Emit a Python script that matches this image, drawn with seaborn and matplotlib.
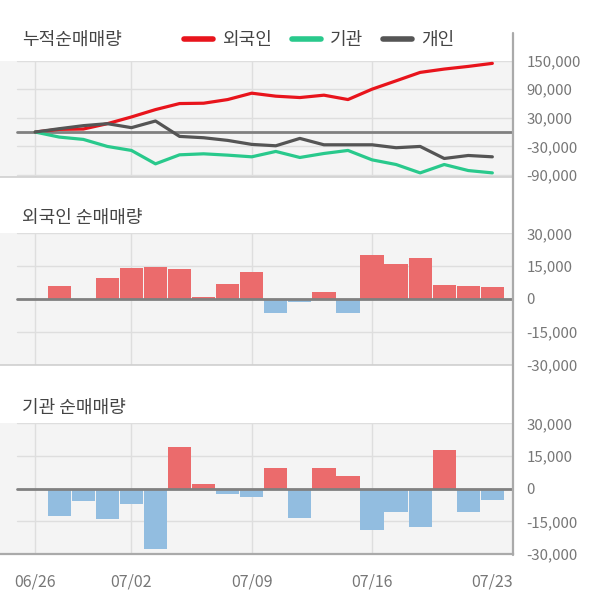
import numpy as np
import pandas as pd
import matplotlib
matplotlib.use("Agg")
import matplotlib.pyplot as plt
from matplotlib.lines import Line2D
import seaborn as sns

# ---------------- data ----------------
dates = ["06/26", "06/27", "06/28", "06/29", "07/02", "07/03", "07/04", "07/05", "07/06",
         "07/09", "07/10", "07/11", "07/12", "07/13", "07/16", "07/17", "07/18", "07/19",
         "07/20", "07/23"]
tick_dates = ["06/26", "07/02", "07/09", "07/16", "07/23"]
grid_dates = ["06/26", "07/02", "07/09", "07/16"]

cum_foreign = [0, 5600, 6300, 17600, 31700, 47200, 59900, 60600, 68300, 81700, 75400,
               72500, 77500, 68300, 90100, 107700, 125400, 132400, 138000, 144400]
cum_inst = [0, -10600, -15500, -30300, -38700, -66900, -47900, -45800, -48600, -52100,
            -40800, -53500, -45100, -38700, -58500, -68300, -85900, -68300, -81000, -85900]
cum_indiv = [0, 7000, 13400, 17600, 9200, 23200, -9200, -12000, -17600, -26000, -28900,
             -13400, -26800, -26800, -26800, -33000, -30300, -55600, -49300, -52100]

net_foreign = [0, 6000, 0, 9700, 14200, 14700, 13800, 1100, 7000, 12400, -6500, -1500,
               3300, -6500, 20200, 16100, 18800, 6500, 6100, 5600]
net_inst = [0, -12400, -5800, -13800, -7100, -27900, 19200, 2000, -2600, -3800, 9700,
            -13300, 9700, 5600, -18800, -10600, -17400, 17900, -10600, -5200]

series_names = ["외국인", "기관", "개인"]
top_title = "누적순매매량"
mid_title = "외국인 순매매량"
bot_title = "기관 순매매량"
top_ticks = [150000, 90000, 30000, -30000, -90000]
bar_ticks = [30000, 15000, 0, -15000, -30000]

# ---------------- style ----------------
sns.set_theme(style="white")
plt.rcParams["font.family"] = ["Noto Sans CJK KR", "DejaVu Sans"]

W, H = 600, 604
fig = plt.figure(figsize=(W / 100, H / 100), dpi=100)
fig.patch.set_facecolor("white")

RIGHT = 513
X0 = 35.2
STEP = 24.06
xl = ((0 - X0) / STEP, (RIGHT - X0) / STEP)
BG = "#f4f4f4"
GRID = "#dedede"
TICKC = "#777777"
TITLEC = "#444444"
ZEROC = "#808080"
RED = "#e8141c"
GREEN = "#29c98c"
DARK = "#555555"
POS = "#eb6b6c"
NEG = "#92bde0"
GSTART = 17 / RIGHT
TICKFS = 10.8
TITLEFS = 13


def make_ax(top, bottom):
    ax = fig.add_axes([0, 1 - bottom / H, RIGHT / W, (bottom - top) / H])
    ax.set_facecolor(BG)
    for s in ax.spines.values():
        s.set_visible(False)
    ax.set_xlim(*xl)
    return ax


def decorate(ax, ticks, labels, bottom_color, bottom_lw):
    for t in ticks:
        ax.axhline(t, xmin=GSTART, xmax=1, color=GRID, lw=1.0, zorder=0.5)
    for d in grid_dates:
        ax.axvline(dates.index(d), color=GRID, lw=1.0, zorder=0.5)
    ax.set_yticks(ticks)
    ax.set_yticklabels(labels)
    ax.tick_params(axis="y", left=False, right=False, labelleft=False, labelright=True,
                   length=0, pad=9.5, labelsize=TICKFS, labelcolor=TICKC)
    ax.tick_params(axis="x", bottom=False, labelbottom=False, length=0)
    ax.set_xlabel("")
    ax.set_ylabel("")
    ax.spines["bottom"].set_visible(True)
    ax.spines["bottom"].set_color(bottom_color)
    ax.spines["bottom"].set_linewidth(bottom_lw)


def fmt(v):
    return f"{v:,}"


# ---------------- top panel: cumulative lines ----------------
ax1 = make_ax(60.7, 176.5)
ax1.set_ylim(-93500, 150000)
long = pd.DataFrame({
    "x": list(range(len(dates))) * 3,
    "v": cum_foreign + cum_inst + cum_indiv,
    "who": [series_names[0]] * len(dates) + [series_names[1]] * len(dates) + [series_names[2]] * len(dates),
})
decorate(ax1, top_ticks, [fmt(t) for t in top_ticks], "#cfcfcf", 1.2)
ax1.axhline(0, xmin=GSTART, xmax=1, color=ZEROC, lw=2.0, zorder=1)
sns.lineplot(data=long, x="x", y="v", hue="who", hue_order=series_names,
             palette=[RED, GREEN, DARK], lw=2.3, legend=False, sort=False, ax=ax1, zorder=3)
ax1.set_xlim(*xl)
ax1.set_xlabel("")
ax1.set_ylabel("")


# ---------------- bar panels ----------------
def bar_panel(top, bottom, vals, bottom_color, bottom_lw):
    ax = make_ax(top, bottom)
    df = pd.DataFrame({"d": dates, "v": vals,
                       "s": ["pos" if v >= 0 else "neg" for v in vals]})
    sns.barplot(data=df, x="d", y="v", hue="s", order=dates, hue_order=["pos", "neg"],
                palette={"pos": POS, "neg": NEG}, dodge=False, width=0.965,
                legend=False, ax=ax, zorder=2, linewidth=0, saturation=1)
    ax.set_xlim(*xl)
    ax.set_ylim(-30000, 30000)
    decorate(ax, bar_ticks, [fmt(t) for t in bar_ticks], bottom_color, bottom_lw)
    ax.axhline(0, xmin=GSTART, xmax=1, color=ZEROC, lw=2.0, zorder=3)
    return ax


ax2 = bar_panel(233.3, 364.7, net_foreign, "#cfcfcf", 1.2)
ax3 = bar_panel(423.3, 554.0, net_inst, "#aaaaaa", 1.6)

# x tick labels on the bottom panel
ax3.set_xticks([dates.index(d) for d in tick_dates])
ax3.set_xticklabels(tick_dates)
ax3.tick_params(axis="x", bottom=False, labelbottom=True, length=0, pad=14,
                labelsize=11.5, labelcolor=TICKC)

# right vertical rule
fig.add_artist(Line2D([RIGHT / W, RIGHT / W], [1 - 33 / H, 1 - 555 / H],
                      color="#aaaaaa", lw=1.6, transform=fig.transFigure))

# titles
fig.text(22 / W, 1 - 40 / H, top_title, fontsize=TITLEFS, color=TITLEC, va="center", ha="left")
fig.text(22 / W, 1 - 218 / H, mid_title, fontsize=TITLEFS, color=TITLEC, va="center", ha="left")
fig.text(22 / W, 1 - 408 / H, bot_title, fontsize=TITLEFS, color=TITLEC, va="center", ha="left")

# legend
handles = [Line2D([0], [0], color=c, lw=4) for c in [RED, GREEN, DARK]]
fig.legend(handles, series_names, loc="center left", bbox_to_anchor=(184 / W, 1 - 40 / H),
           ncol=3, frameon=False, fontsize=TITLEFS, handlelength=1.6, handletextpad=0.5,
           columnspacing=1.1, labelcolor=TITLEC, borderpad=0, borderaxespad=0)

fig.savefig("out.png", dpi=100, facecolor="white")
